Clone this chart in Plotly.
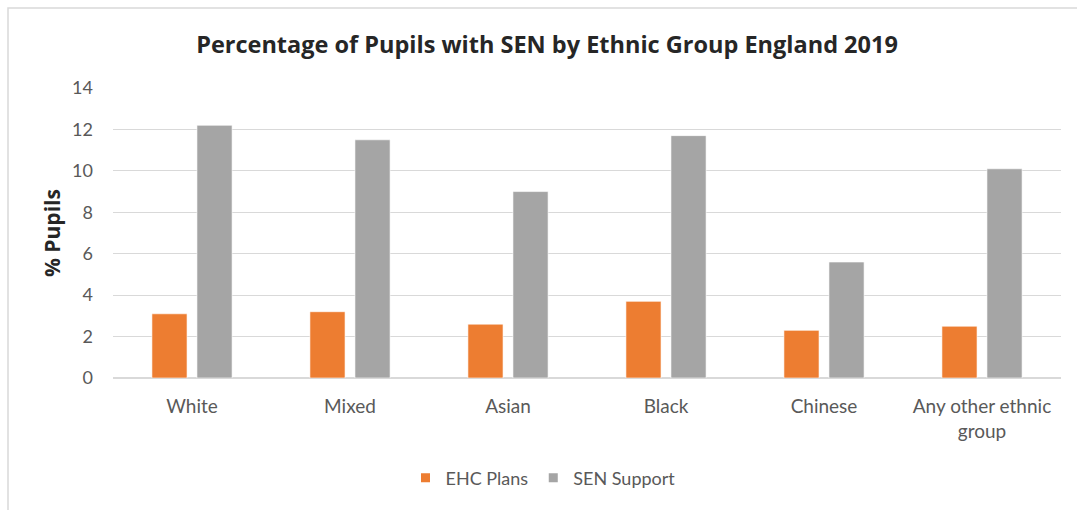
import plotly.graph_objects as go

# Share of pupils with special educational needs, by ethnic group (England, 2019)
groups = ["White", "Mixed", "Asian", "Black", "Chinese", "Any other ethnic<br>group"]
ehc_plans = [3.1, 3.2, 2.6, 3.7, 2.3, 2.5]
sen_support = [12.2, 11.5, 9.0, 11.7, 5.6, 10.1]
y_ticks = [0, 2, 4, 6, 8, 10, 12, 14]
series_names = ["EHC Plans", "SEN Support"]
series_colors = ["#ED7D31", "#A5A5A5"]

FONT = "Lato"
TEXT = "#595959"

fig = go.Figure()
for name, vals, color in zip(series_names, [ehc_plans, sen_support], series_colors):
    fig.add_trace(go.Bar(
        name=name, x=groups, y=vals, showlegend=False,
        marker=dict(color=color, line=dict(color="rgba(255,255,255,0.6)", width=1)),
    ))

# small square legend keys
for name, color in zip(series_names, series_colors):
    fig.add_trace(go.Scatter(
        name=name, x=[None], y=[None], mode="markers",
        marker=dict(symbol="square", size=9, color=color),
        showlegend=True,
    ))

fig.update_layout(
    width=1077, height=510,
    margin=dict(l=113, r=16, t=88, b=132),
    paper_bgcolor="white", plot_bgcolor="white",
    barmode="group", bargap=0.43, bargroupgap=0.22,
    font=dict(family=FONT, size=18, color=TEXT),
    title=dict(
        text="<b>Percentage of Pupils with SEN by Ethnic Group England 2019</b>",
        x=(547 - 113) / 948, xanchor="center", xref="paper",
        y=1 - 45 / 510, yanchor="middle",
        font=dict(family="Open Sans", size=23.5, color="#262626"),
    ),
    xaxis=dict(
        showgrid=False, showline=False, ticks="", ticklabelstandoff=15,
        tickfont=dict(family=FONT, size=19, color=TEXT),
    ),
    yaxis=dict(
        range=[0, 14], tickvals=y_ticks,
        showgrid=True, gridcolor="#D9D9D9", gridwidth=1.2,
        zeroline=True, zerolinecolor="#D9D9D9", zerolinewidth=1.5,
        showline=False, ticks="", ticklabelstandoff=19,
        tickfont=dict(family=FONT, size=18, color=TEXT),
    ),
    legend=dict(
        orientation="h", x=(543 - 113) / 948, xanchor="center",
        y=(378 - 478) / 290, yanchor="middle",
        font=dict(family=FONT, size=18, color=TEXT),
        itemwidth=30, traceorder="normal",
    ),
)

# y-axis title
fig.add_annotation(
    text="<b>% Pupils</b>", textangle=-90,
    xref="paper", yref="paper",
    x=(52 - 113) / 948, y=0.5, xanchor="center", yanchor="middle",
    showarrow=False, font=dict(family="Open Sans", size=21, color="#262626"),
)

# chart area outline
fig.add_shape(
    type="rect", xref="paper", yref="paper",
    x0=(8 - 113) / 948, x1=(1090 - 113) / 948,
    y0=(378 - 530) / 290, y1=(378 - 8) / 290,
    line=dict(color="#D9D9D9", width=1.5), fillcolor="rgba(0,0,0,0)",
    layer="below",
)

fig.write_html("out.html")
